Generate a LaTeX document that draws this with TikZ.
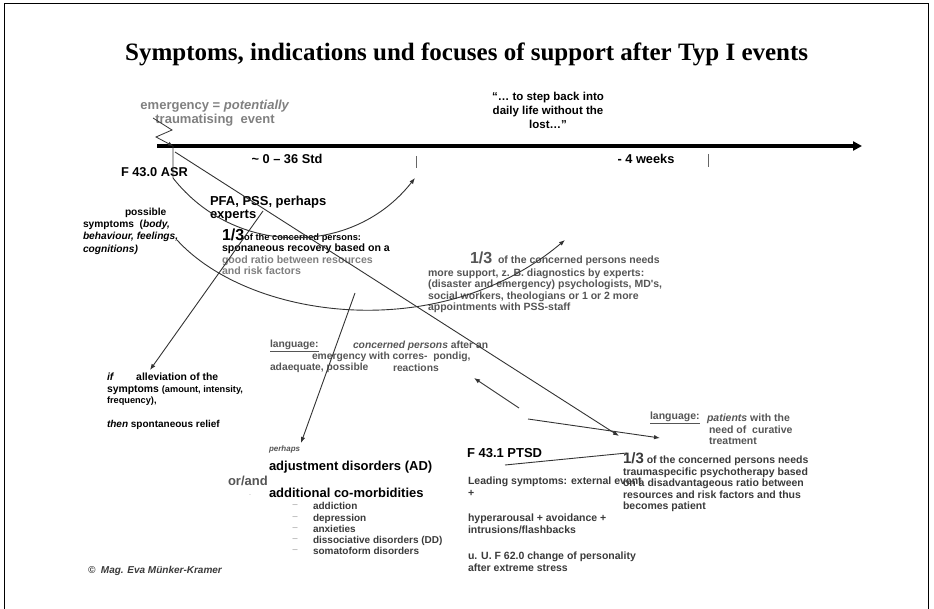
\documentclass[tikz,border=0pt]{standalone}
\usepackage{fontspec}
\setmainfont{Liberation Sans}
\newfontfamily\titlefont{Liberation Serif}
\usetikzlibrary{arrows.meta}
\definecolor{txtgray}{HTML}{808080}
\definecolor{dgray}{HTML}{555555}
\definecolor{ddgray}{HTML}{3A3A3A}
\definecolor{linegray}{HTML}{333333}
\newcommand{\fs}[2]{\fontsize{#1}{#2}\selectfont}
\begin{document}
\begin{tikzpicture}[x=1pt,y=-1pt,
  lbl/.style={inner sep=0pt, outer sep=0pt, align=left, anchor=north west, font=\bfseries\fs{10}{11.5}},
  conn/.style={draw=linegray, line width=0.9pt},
  arr/.style={conn, -{Latex[length=6pt,width=4.5pt]}},
  tick/.style={draw=black!60, line width=0.8pt}
]
\useasboundingbox (0,0) rectangle (934,609);
\draw[line width=1pt] (4,612) -- (4,4) -- (928,4) -- (928,612);

% title
\node[inner sep=0pt, anchor=base west] (title) at (125,61)
  {\resizebox{683pt}{!}{\titlefont\bfseries\fs{25}{25}Symptoms, indications und focuses of support after Typ I events}};

% timeline
\coordinate (tl0) at (157,146);
\coordinate (tl1) at (862,146);
\draw[line width=3.2pt, -{Triangle[length=9pt,width=9pt]}] (tl0) -- (tl1);
\coordinate (tk1a) at (416,156); \coordinate (tk1b) at (416,168);
\coordinate (tk2a) at (708,154); \coordinate (tk2b) at (708,167);
\draw[tick] (tk1a) -- (tk1b);
\draw[tick] (tk2a) -- (tk2b);

\node[lbl, anchor=center, font=\bfseries\fs{12.8}{14}] (t036) at (287,159) {\textasciitilde\ 0 -- 36 Std};
\node[lbl, anchor=center, font=\bfseries\fs{12.8}{14}] (t4w) at (646,159) {- 4 weeks};

% emergency
\node[lbl, anchor=north, align=center, text=txtgray, font=\bfseries\fs{13}{14}] (emerg) at (215,100.5)
  {emergency = \textit{potentially}\\traumatising\ \ event};
\coordinate (b0) at (153,118);
\coordinate (b1) at (172,130);
\coordinate (b2) at (156,137);
\coordinate (ev) at (173,146);
\draw[conn, line width=0.8pt, -{Latex[length=5pt,width=4pt]}] (b0) -- (b1) -- (b2) -- (ev);

% quote
\node[lbl, anchor=north, align=center, font=\bfseries\fs{11.5}{14}] (quote) at (548,92.5)
  {``\ldots\ to step back into\\daily life without the\\lost\ldots''};

% ASR and PFA
\node[lbl, anchor=west, font=\bfseries\fs{12.8}{14}] (asr) at (121,172) {F 43.0 ASR};
\node[lbl, font=\bfseries\fs{13}{13}] (pfa) at (210,196) {PFA, PSS, perhaps\\experts};

% possible symptoms
\node[lbl, font=\bfseries\fs{10.2}{12.3}] (poss) at (83,208)
  {\hspace*{42pt}possible\\symptoms\ \ (\textit{body,}\\\textit{behaviour, feelings,}\\\textit{cognitions)}};

% 1/3 recovery
\node[lbl, font=\bfseries\fs{10.6}{11.6}] (rec) at (222,228.5)
  {{\fs{16}{16}1/3}{\fs{9.3}{10}of the concerned persons:}\\
   sponaneous recovery based on a\\
   \textcolor{txtgray}{good ratio between resources}\\
   \textcolor{txtgray}{and risk factors}};

% 1/3 more support
\node[lbl, text=dgray, font=\bfseries\fs{10.5}{11.3}] (more) at (428,252)
  {\hspace*{42pt}{\fs{16}{16}1/3}\ \ of the concerned persons needs\\[1.7pt]
   more support, z. B. diagnostics by experts:\\
   (disaster and emergency) psychologists, MD\textquotesingle s,\\
   social workers, theologians or 1 or 2 more\\
   appointments with PSS-staff};

% language 1
\node[lbl, anchor=west, text=dgray, font=\bfseries\fs{10.3}{11}] (lang1) at (270,346) {\underline{language:}};
\node[lbl, anchor=west, text=dgray, font=\bfseries\fs{10.3}{11}] (conc) at (353,346) {\textit{concerned persons} after an};
\node[lbl, anchor=west, text=dgray, font=\bfseries\fs{10.3}{11}] (emw) at (312,357) {emergency with corres-\ \ pondig,};
\node[lbl, anchor=west, text=dgray, font=\bfseries\fs{10.3}{11}] (adq) at (270,368) {adaequate, possible};
\node[lbl, anchor=west, text=dgray, font=\bfseries\fs{10.3}{11}] (reac) at (393,368) {reactions};

% if alleviation
\node[lbl, font=\bfseries\fs{10.4}{11.5}] (ifn) at (107,373)
  {\textit{if}\hspace{22pt}alleviation of the\\
   symptoms {\fs{9.2}{11.5}(amount, intensity,}\\
   {\fs{9.2}{11.5}frequency),}};
\node[lbl, anchor=west, font=\bfseries\fs{10}{11}] (then) at (107,425) {\textit{then} spontaneous relief};

% AD block
\node[lbl, anchor=west, font=\itshape\bfseries\fs{8}{9}, text=dgray] (perh) at (269,449) {perhaps};
\node[lbl, anchor=west, font=\bfseries\fs{13}{13}] (ad) at (269,467) {adjustment disorders (AD)};
\node[lbl, anchor=west, font=\bfseries\fs{13}{13}, text=dgray] (orand) at (228,481) {or/and};
\node[lbl, anchor=west, font=\fs{7}{9}, text=black!40] (dot) at (249,495) {.};
\node[lbl, anchor=west, font=\bfseries\fs{13}{13}] (addc) at (269,493) {additional co-morbidities};
\node[lbl, font=\bfseries\fs{10}{11.3}, text=ddgray] (list) at (313,502.5)
  {addiction\\depression\\anxieties\\dissociative disorders (DD)\\somatoform disorders};
\foreach \i in {0,...,4}
  \node[lbl, anchor=center, font=\fs{9}{9}, text=black!40] (dash\i) at (295,{506.5+11.3*\i}) {--};

\node[lbl, anchor=west, font=\itshape\bfseries\fs{10}{11}, text=ddgray] (copy) at (88,571) {\textcopyright\ \ Mag. Eva Münker-Kramer};

% PTSD
\node[lbl, anchor=west, font=\bfseries\fs{13}{13}] (ptsd) at (467,453) {F 43.1 PTSD};
\node[lbl, font=\bfseries\fs{10.5}{11.4}, text=ddgray] (lead) at (468,477)
  {Leading symptoms: external event\\+};
\node[lbl, font=\bfseries\fs{10.5}{11.4}, text=ddgray] (hyper) at (468,514)
  {hyperarousal + avoidance +\\intrusions/flashbacks};
\node[lbl, font=\bfseries\fs{10.5}{11.4}, text=ddgray] (uu) at (468,552)
  {u. U. F 62.0 change of personality\\after extreme stress};

% language 2
\node[lbl, anchor=west, text=dgray, font=\bfseries\fs{10.5}{11}] (lang2) at (650,418) {\underline{language:}};
\node[lbl, text=dgray, font=\bfseries\fs{10.5}{11.6}] (pat) at (707,414)
  {\textit{patients} with the\\\hspace*{2pt}need of\ \ curative\\\hspace*{2pt}treatment};

% 1/3 patient
\node[lbl, text=ddgray, font=\bfseries\fs{10.5}{11.5}] (trau) at (623,453)
  {{\fs{15}{15}1/3}\ of the concerned persons needs\\
   traumaspecific psychotherapy based\\
   on a disadvantageous ratio between\\
   resources and risk factors and thus\\
   becomes patient};

% connectors
\coordinate (a1s) at (173,178);
\coordinate (a1e) at (415,178);
\draw[conn, -{Latex[length=6pt,width=4.5pt]}] (ev) -- (a1s) .. controls (235,257) and (353,257) .. (a1e);

\coordinate (a2s) at (177,240);
\coordinate (a2e) at (565,240);
\draw[arr] (a2s) .. controls (250,320) and (440,345) .. (a2e);

\coordinate (ev2) at (175,152);
\coordinate (dge) at (619,436);
\draw[arr] (ev2) -- (dge);

\coordinate (ifs) at (263,211);
\coordinate (ife) at (150,370);
\draw[arr] (ifs) -- (ife);

\coordinate (ps) at (355,293);
\coordinate (pe) at (301,443);
\draw[arr] (ps) -- (pe);

\coordinate (rs) at (528,419);
\coordinate (re) at (660,438);
\draw[arr] (rs) -- (re);

\coordinate (bs) at (519,408);
\coordinate (be) at (474,378);
\draw[arr] (bs) -- (be);

\coordinate (us) at (505,465);
\coordinate (ue) at (627,453);
\draw[conn] (us) -- (ue);
\end{tikzpicture}
\end{document}
